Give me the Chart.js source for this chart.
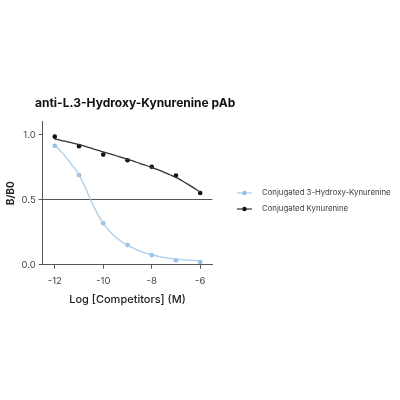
<!DOCTYPE html>
<html>
<head>
<meta charset="utf-8">
<script src="https://cdn.jsdelivr.net/npm/chart.js@4.4.0/dist/chart.umd.min.js"></script>
<style>
  html, body { margin: 0; padding: 0; background: #ffffff; }
  #wrap { width: 400px; height: 400px; }
</style>
</head>
<body>
<div id="wrap"><canvas id="c" width="400" height="400"></canvas></div>
<script>
// ---- data ----
const chartTitle = 'anti-L.3-Hydroxy-Kynurenine pAb';
const seriesNames = ['Conjugated 3-Hydroxy-Kynurenine', 'Conjugated Kynurenine'];
const concentrations = [-12, -11, -10, -9, -8, -7, -6];
const hydroxyPoints = [0.915, 0.690, 0.318, 0.152, 0.075, 0.034, 0.021];
const kynureninePoints = [0.985, 0.912, 0.847, 0.804, 0.753, 0.686, 0.551];
const curveX = [-12, -11.75, -11.5, -11.25, -11, -10.75, -10.5, -10.25, -10, -9.75, -9.5, -9.25, -9,
                 -8.75, -8.5, -8.25, -8, -7.75, -7.5, -7.25, -7, -6.75, -6.5, -6.25, -6];
const hydroxyCurve = [0.915, 0.872, 0.818, 0.757, 0.690, 0.597, 0.490, 0.395, 0.318, 0.260, 0.213, 0.178, 0.150,
                      0.126, 0.106, 0.089, 0.075, 0.066, 0.057, 0.049, 0.043, 0.039, 0.035, 0.033, 0.031];
const kynurenineCurve = [0.967, 0.957, 0.946, 0.935, 0.923, 0.910, 0.896, 0.882, 0.867, 0.854, 0.840, 0.826, 0.811,
                         0.796, 0.780, 0.765, 0.749, 0.731, 0.712, 0.692, 0.672, 0.646, 0.618, 0.589, 0.559];
const xTicks = [-12, -10, -8, -6];
const yTicks = [0.0, 0.5, 1.0];
const referenceLevel = 0.5;

const BLUE_PT = '#92bce8';
const BLUE_LN = '#a9cdef';
const BLACK_PT = '#111111';
const BLACK_LN = '#333333';
const AXIS = '#555555';
const FONT = 'Inter, "Noto Sans", sans-serif';

const pts = (xs, ys) => xs.map((x, i) => ({ x: x, y: ys[i] }));

const overlay = {
  id: 'overlay',
  afterDraw(chart) {
    const ctx = chart.ctx;
    ctx.save();
    // title
    ctx.fillStyle = '#111111';
    ctx.font = 'bold 12px ' + FONT;
    ctx.textBaseline = 'middle';
    ctx.textAlign = 'left';
    ctx.fillText(chartTitle, 35, 103);
    // legend
    const items = [
      { text: seriesNames[0], pt: BLUE_PT, ln: BLUE_LN },
      { text: seriesNames[1], pt: BLACK_PT, ln: BLACK_LN }
    ];
    ctx.font = '7.8px ' + FONT;
    items.forEach((it, i) => {
      const y = 193 + i * 16;
      ctx.strokeStyle = it.ln;
      ctx.lineWidth = 1.2;
      ctx.beginPath();
      ctx.moveTo(237, y);
      ctx.lineTo(252, y);
      ctx.stroke();
      ctx.fillStyle = it.pt;
      ctx.beginPath();
      ctx.arc(244.5, y, 2.2, 0, Math.PI * 2);
      ctx.fill();
      ctx.fillStyle = '#3a3a3a';
      ctx.fillText(it.text, 262, y);
    });
    ctx.restore();
  }
};

new Chart(document.getElementById('c'), {
  type: 'scatter',
  data: {
    datasets: [
      { label: seriesNames[0] + ' fit', type: 'line', data: pts(curveX, hydroxyCurve), borderColor: BLUE_LN,
        borderWidth: 1.3, pointRadius: 0, cubicInterpolationMode: 'monotone', fill: false },
      { label: seriesNames[1] + ' fit', type: 'line', data: pts(curveX, kynurenineCurve), borderColor: BLACK_LN,
        borderWidth: 1.3, pointRadius: 0, cubicInterpolationMode: 'monotone', fill: false },
      { label: seriesNames[0], data: pts(concentrations, hydroxyPoints), backgroundColor: BLUE_PT,
        borderColor: BLUE_PT, pointRadius: 2.3, borderWidth: 0 },
      { label: seriesNames[1], data: pts(concentrations, kynureninePoints), backgroundColor: BLACK_PT,
        borderColor: BLACK_PT, pointRadius: 2.3, borderWidth: 0 }
    ]
  },
  options: {
    responsive: false,
    animation: false,
    layout: { padding: { left: 0, top: 121.7, right: 187.7, bottom: 90.3 } },
    plugins: { legend: { display: false }, title: { display: false }, tooltip: { enabled: false } },
    scales: {
      x: {
        type: 'linear', min: -12.5, max: -5.5,
        afterBuildTicks: s => { s.ticks = xTicks.map(v => ({ value: v })); },
        afterFit: s => { s.height = 45; },
        border: { display: true, color: AXIS, width: 1 },
        grid: { drawOnChartArea: false, drawTicks: true, tickLength: 4, tickColor: AXIS, color: AXIS },
        ticks: { padding: 7, color: '#444444', font: { family: FONT, size: 9.5 }, maxRotation: 0,
                 callback: v => String(v) },
        title: { display: true, text: 'Log [Competitors] (M)', color: '#222222',
                 font: { family: FONT, size: 11, weight: '500' }, padding: { top: 2, bottom: 3 } }
      },
      y: {
        type: 'linear', min: 0, max: 1.1,
        afterBuildTicks: s => { s.ticks = yTicks.map(v => ({ value: v })); },
        afterFit: s => { s.width = 42.7; },
        border: { display: true, color: AXIS, width: 1 },
        grid: { drawOnChartArea: true, drawTicks: true, tickLength: 4, tickColor: AXIS, lineWidth: 1,
                color: c => (c.tick && Math.abs(c.tick.value - referenceLevel) < 1e-9) ? AXIS : 'rgba(0,0,0,0)' },
        ticks: { padding: 3, color: '#444444', font: { family: FONT, size: 9.5 }, callback: v => v.toFixed(1) },
        title: { display: true, text: 'B/B0', color: '#222222',
                 font: { family: FONT, size: 10, weight: 'bold' }, padding: { top: 5, bottom: 2 } }
      }
    }
  },
  plugins: [overlay]
});
</script>
</body>
</html>
